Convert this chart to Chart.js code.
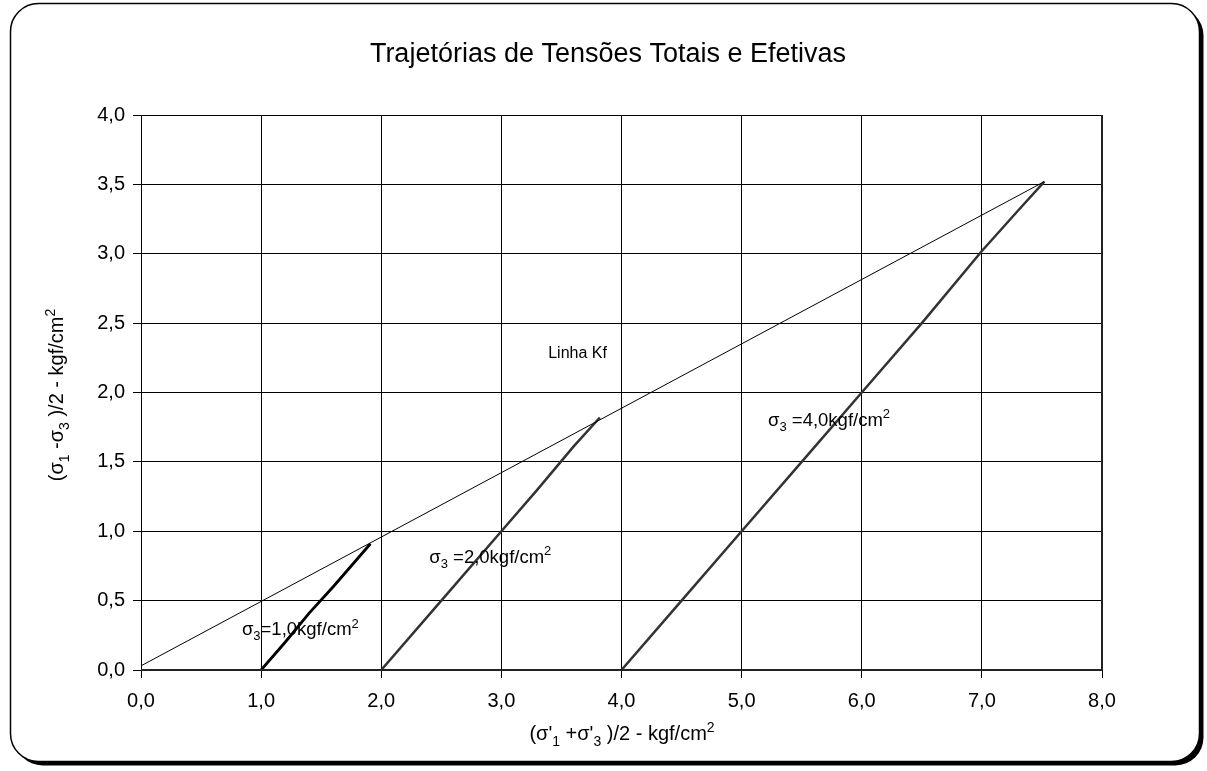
<!DOCTYPE html>
<html>
<head>
<meta charset="utf-8">
<script src="https://cdn.jsdelivr.net/npm/chart.js@4.4.1/dist/chart.umd.min.js"></script>
<style>
  html, body { margin: 0; padding: 0; background: #fff; }
</style>
</head>
<body>
<canvas id="chart" width="1207" height="771"></canvas>
<script>
// Linha Kf
const kfX = [0.0, 7.52];
const kfY = [0.03, 3.52];

// stress paths (p', q)
const path1X = [1.0, 1.2, 1.4, 1.6, 1.8, 1.91];
const path1Y = [0.0, 0.2, 0.41, 0.6, 0.8, 0.91];
const path2X = [2.0, 2.5, 3.0, 3.3, 3.6, 3.82];
const path2Y = [0.0, 0.5, 1.0, 1.3, 1.61, 1.82];
const path3X = [4.0, 4.5, 5.0, 5.5, 6.0, 6.5, 7.0, 7.3, 7.52];
const path3Y = [0.0, 0.5, 1.0, 1.5, 2.0, 2.5, 3.02, 3.31, 3.52];

const xTicks = [0, 1, 2, 3, 4, 5, 6, 7, 8];
const yTicks = [0, 0.5, 1, 1.5, 2, 2.5, 3, 3.5, 4];

const titleText = "Trajetórias de Tensões Totais e Efetivas";

// text pieces: [text, kind]  n = normal, b = subscript, p = superscript
const yTitle = [["(σ", "n"], ["1", "b"], [" -σ", "n"], ["3", "b"], [" )/2 - kgf/cm", "n"], ["2", "p"]];
const xTitle = [["(σ'", "n"], ["1", "b"], [" +σ'", "n"], ["3", "b"], [" )/2 - kgf/cm", "n"], ["2", "p"]];
const notes = [
  { x: 0.84, y: 0.25, parts: [["σ", "n"], ["3", "b"], ["=1,0kgf/cm", "n"], ["2", "p"]] },
  { x: 2.4, y: 0.77, parts: [["σ", "n"], ["3", "b"], [" =2,0kgf/cm", "n"], ["2", "p"]] },
  { x: 5.22, y: 1.76, parts: [["σ", "n"], ["3", "b"], [" =4,0kgf/cm", "n"], ["2", "p"]] },
  { x: 3.39, y: 2.25, parts: [["Linha Kf", "n"]], size: 16 }
];

const FONT = "'Liberation Sans', Arial, sans-serif";
const toPts = (xs, ys) => xs.map((x, i) => ({ x: x, y: ys[i] }));
const fmt = v => v.toFixed(1).replace(".", ",");

function richWidth(ctx, parts, size) {
  let w = 0;
  parts.forEach(([t, k]) => {
    ctx.font = (k === "n" ? size : Math.round(size * 0.68)) + "px " + FONT;
    w += ctx.measureText(t).width;
  });
  return w;
}

function drawRich(ctx, parts, x, y, size) {
  let cx = x;
  ctx.textBaseline = "alphabetic";
  ctx.textAlign = "left";
  parts.forEach(([t, k]) => {
    const s = k === "n" ? size : Math.round(size * 0.68);
    ctx.font = s + "px " + FONT;
    const dy = k === "b" ? size * 0.28 : (k === "p" ? -size * 0.42 : 0);
    ctx.fillText(t, cx, y + dy);
    cx += ctx.measureText(t).width;
  });
}

function roundRect(ctx, x, y, w, h, r) {
  ctx.beginPath();
  ctx.moveTo(x + r, y);
  ctx.lineTo(x + w - r, y);
  ctx.arcTo(x + w, y, x + w, y + r, r);
  ctx.lineTo(x + w, y + h - r);
  ctx.arcTo(x + w, y + h, x + w - r, y + h, r);
  ctx.lineTo(x + r, y + h);
  ctx.arcTo(x, y + h, x, y + h - r, r);
  ctx.lineTo(x, y + r);
  ctx.arcTo(x, y, x + r, y, r);
  ctx.closePath();
}

const frame = {
  id: "frame",
  beforeDraw(chart) {
    const ctx = chart.ctx;
    ctx.save();
    ctx.fillStyle = "#000";
    roundRect(ctx, 14.5, 7.5, 1189, 758, 28);
    ctx.fill();
    ctx.fillStyle = "#fff";
    roundRect(ctx, 10.5, 3.5, 1189, 758, 28);
    ctx.fill();
    ctx.lineWidth = 1.5;
    ctx.strokeStyle = "#000";
    ctx.stroke();
    ctx.restore();
  },
  afterDraw(chart) {
    const ctx = chart.ctx;
    const a = chart.chartArea;
    const xs = chart.scales.x, ys = chart.scales.y;
    ctx.save();
    ctx.fillStyle = "#000";
    // title
    ctx.font = "27px " + FONT;
    ctx.textAlign = "center";
    ctx.textBaseline = "middle";
    ctx.fillText(titleText, 608, 55);
    // plot border: thicker right and bottom
    ctx.strokeStyle = "#222";
    ctx.lineWidth = 2;
    ctx.beginPath();
    ctx.moveTo(a.right, a.top);
    ctx.lineTo(a.right, a.bottom);
    ctx.lineTo(a.left, a.bottom);
    ctx.stroke();
    // x axis title
    const xw = richWidth(ctx, xTitle, 20);
    drawRich(ctx, xTitle, 622 - xw / 2, 740, 20);
    // y axis title
    const yw = richWidth(ctx, yTitle, 20);
    ctx.translate(63, 395);
    ctx.rotate(-Math.PI / 2);
    drawRich(ctx, yTitle, -yw / 2, 0, 20);
    ctx.restore();
    // notes
    ctx.save();
    ctx.fillStyle = "#000";
    notes.forEach(n => {
      drawRich(ctx, n.parts, xs.getPixelForValue(n.x), ys.getPixelForValue(n.y), n.size || 18.5);
    });
    ctx.restore();
  }
};

new Chart(document.getElementById("chart"), {
  type: "scatter",
  data: {
    datasets: [
      { data: toPts(kfX, kfY), borderColor: "#000", borderWidth: 1 },
      { data: toPts(path1X, path1Y), borderColor: "#000", borderWidth: 2.8 },
      { data: toPts(path2X, path2Y), borderColor: "#333", borderWidth: 2.5 },
      { data: toPts(path3X, path3Y), borderColor: "#333", borderWidth: 2.5 }
    ]
  },
  options: {
    responsive: false,
    animation: false,
    showLine: true,
    elements: { point: { radius: 0 }, line: { tension: 0 } },
    layout: { padding: { top: 115, right: 105, bottom: 0, left: 0 } },
    plugins: { legend: { display: false }, tooltip: { enabled: false } },
    scales: {
      x: {
        type: "linear", min: 0, max: 8,
        afterBuildTicks: s => { s.ticks = xTicks.map(v => ({ value: v })); },
        afterFit: s => { s.height = 101; },
        grid: { color: "#000", lineWidth: 1, tickLength: 8, tickColor: "#000" },
        border: { color: "#000", width: 1 },
        ticks: { color: "#000", padding: 11, font: { family: FONT, size: 20 }, callback: fmt }
      },
      y: {
        type: "linear", min: 0, max: 4,
        afterBuildTicks: s => { s.ticks = yTicks.map(v => ({ value: v })); },
        afterFit: s => { s.width = 141; },
        grid: { color: "#000", lineWidth: 1, tickLength: 8, tickColor: "#000" },
        border: { color: "#000", width: 1 },
        ticks: { color: "#000", padding: 8, font: { family: FONT, size: 20 }, callback: fmt }
      }
    }
  },
  plugins: [frame]
});
</script>
</body>
</html>
